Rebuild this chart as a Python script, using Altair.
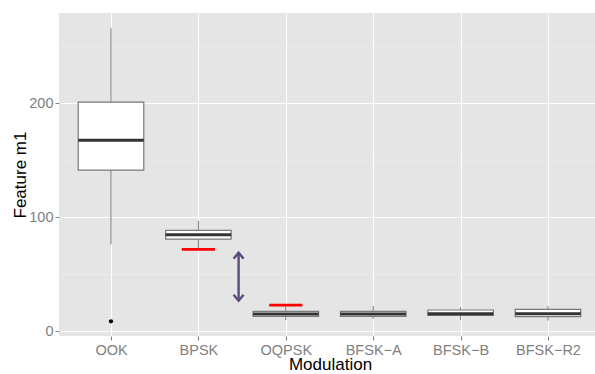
import json
import altair as alt
import pandas as pd

# Box-plot summary of feature m1 per modulation scheme
categories = ["OOK", "BPSK", "OQPSK", "BFSK-A", "BFSK-B", "BFSK-R2"]
whisker_low = [76.2, 72.0, 9.9, 11.0, 9.9, 9.3]
q1 = [141.2, 80.8, 13.1, 13.1, 14.0, 12.8]
median = [167.5, 84.6, 15.2, 15.2, 15.4, 15.4]
q3 = [200.8, 88.4, 17.5, 17.5, 18.7, 19.3]
whisker_high = [265.6, 96.9, 21.8, 22.2, 21.0, 22.2]

# Outlying observations
outlier_cat = ["OOK"]
outlier_val = [8.8]

# Red reference levels
ref_cat = ["BPSK", "OQPSK"]
ref_val = [71.8, 23.0]

# Double-headed arrow between BPSK and OQPSK
arrow_pos = [2.46]
arrow_top = [68.9]
arrow_bottom = [26.8]

y_breaks = [0, 100, 200]
y_minor = [50, 150, 250]

idx = {c: i + 1 for i, c in enumerate(categories)}
BOX_HALF = 0.375
REF_HALF = 0.19

boxes = pd.DataFrame({
    "cat": categories,
    "pos": [idx[c] for c in categories],
    "lo": whisker_low, "q1": q1, "med": median, "q3": q3, "hi": whisker_high,
})
outliers = pd.DataFrame({"pos": [idx[c] for c in outlier_cat], "val": outlier_val})
refs = pd.DataFrame({"pos": [idx[c] for c in ref_cat], "val": ref_val})
arrow = pd.DataFrame({"pos": arrow_pos, "top": arrow_top, "bottom": arrow_bottom})
minor = pd.DataFrame({"v": y_minor})

FONT = "Liberation Sans"
# axis labels typeset with a true minus sign
display_labels = [c.replace("-", "\u2212") for c in categories]
label_expr = json.dumps(display_labels, ensure_ascii=False) + "[datum.value - 1]"

xscale = alt.Scale(domain=[0.405, 6.538], nice=False, zero=False)
yscale = alt.Scale(domain=[-4.1, 278.9], nice=False, zero=False)

x_axis = alt.Axis(
    title="Modulation", values=list(range(1, len(categories) + 1)),
    labelExpr=label_expr, grid=True, gridColor="white", gridWidth=1.1,
    domain=False, tickColor="#7F7F7F", tickSize=4, labelColor="#7F7F7F",
    labelFont=FONT, labelFontSize=14.5, labelPadding=3,
    titleFont=FONT, titleFontSize=17, titleFontWeight="normal", titleColor="black",
    titleX=271, titleY=33.5, titleBaseline="alphabetic", titleAnchor="start",
    titleAlign="center",
)
y_axis = alt.Axis(
    title="Feature m1", values=y_breaks, grid=True, gridColor="white", gridWidth=1.1,
    domain=False, tickColor="#7F7F7F", tickSize=4, labelColor="#7F7F7F",
    labelFont=FONT, labelFontSize=14.5, labelPadding=2,
    titleFont=FONT, titleFontSize=17, titleFontWeight="normal", titleColor="black",
    titleX=-38.5, titleBaseline="middle",
)

minor_grid = alt.Chart(minor).mark_rule(color="#F2F2F2", strokeWidth=0.6).encode(
    y=alt.Y("v:Q", scale=yscale, axis=y_axis),
    x=alt.value(0), x2=alt.value(536),
)

base = alt.Chart(boxes).transform_calculate(
    xl=f"datum.pos - {BOX_HALF}", xr=f"datum.pos + {BOX_HALF}"
)

whiskers = base.mark_rule(color="#7A7A7A", strokeWidth=1).encode(
    x=alt.X("pos:Q", scale=xscale, axis=x_axis),
    y=alt.Y("lo:Q", scale=yscale),
    y2="hi:Q",
)
box = base.mark_rect(fill="white", stroke="#7A7A7A", strokeWidth=1.2).encode(
    x=alt.X("xl:Q", scale=xscale),
    x2="xr:Q",
    y=alt.Y("q1:Q", scale=yscale),
    y2="q3:Q",
)
med = base.mark_rule(color="#333333", strokeWidth=3).encode(
    x=alt.X("xl:Q", scale=xscale),
    x2="xr:Q",
    y=alt.Y("med:Q", scale=yscale),
)

out_pts = alt.Chart(outliers).mark_circle(color="black", opacity=1, size=18).encode(
    x=alt.X("pos:Q", scale=xscale),
    y=alt.Y("val:Q", scale=yscale),
)

ref_lines = alt.Chart(refs).transform_calculate(
    xl=f"datum.pos - {REF_HALF}", xr=f"datum.pos + {REF_HALF}"
).mark_rule(color="#FF0000", strokeWidth=2.8).encode(
    x=alt.X("xl:Q", scale=xscale),
    x2="xr:Q",
    y=alt.Y("val:Q", scale=yscale),
)

ARROW_COLOR = "#5C4A7D"
shaft = alt.Chart(arrow).mark_rule(color=ARROW_COLOR, strokeWidth=2.4).encode(
    x=alt.X("pos:Q", scale=xscale),
    y=alt.Y("bottom:Q", scale=yscale),
    y2="top:Q",
)
head_up = alt.Chart(arrow).mark_point(
    shape="M-1,1.2L0,0L1,1.2", filled=False, color=ARROW_COLOR,
    strokeWidth=2.4, size=100, opacity=1, strokeJoin="miter",
).encode(x=alt.X("pos:Q", scale=xscale), y=alt.Y("top:Q", scale=yscale))
head_down = alt.Chart(arrow).mark_point(
    shape="M-1,-1.2L0,0L1,-1.2", filled=False, color=ARROW_COLOR,
    strokeWidth=2.4, size=100, opacity=1, strokeJoin="miter",
).encode(x=alt.X("pos:Q", scale=xscale), y=alt.Y("bottom:Q", scale=yscale))

chart = alt.layer(
    minor_grid, whiskers, box, med, out_pts, ref_lines, shaft, head_up, head_down
).properties(
    width=536, height=323,
    autosize=alt.AutoSizeParams(type="none"),
    padding={"left": 59, "top": 13, "right": 0, "bottom": 38},
    background="white",
).configure_view(
    fill="#E5E5E5", stroke=None,
)

chart.save("out.html", embed_options={"renderer": "svg", "actions": False})
